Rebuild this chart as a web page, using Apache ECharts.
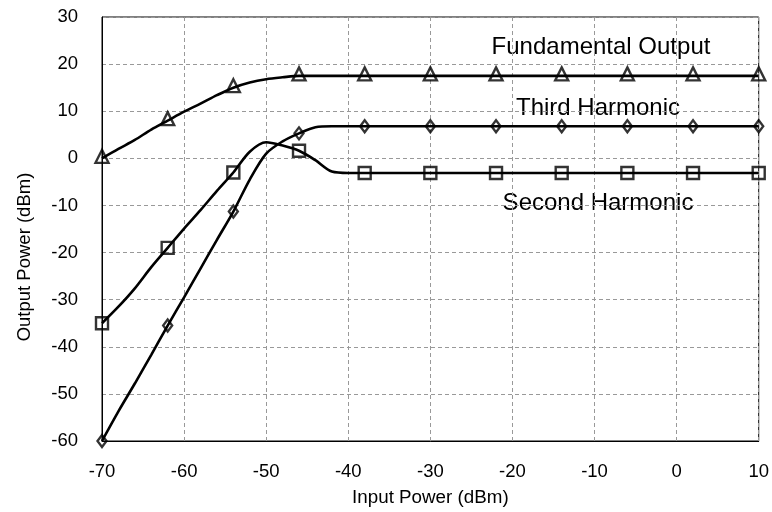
<!DOCTYPE html>
<html>
<head>
<meta charset="utf-8">
<script src="https://cdn.jsdelivr.net/npm/echarts@6/dist/echarts.min.js"></script>
<style>
  html, body { margin: 0; padding: 0; background: #fff; }
  #chart { width: 772px; height: 512px; }
</style>
</head>
<body>
<div id="chart"></div>
<script>
// Input power (dBm) sample points
const inputPower = [-70, -68, -66, -64, -62, -60, -58, -56, -54, -52, -50, -48, -46, -44, -42, -40, -38, -30, -22, -14, -6, 2, 10];
// Output power (dBm)
const fundamental = [0, 2, 3.9, 6.1, 8, 9.9, 11.6, 13.4, 15, 16.1, 16.8, 17.2, 17.5, 17.5, 17.5, 17.5, 17.5, 17.5, 17.5, 17.5, 17.5, 17.5, 17.5];
const secondHarmonic = [-35, -31.5, -27.6, -23.1, -19, -14.9, -11, -6.9, -3, 1.4, 3.4, 2.7, 1.6, -0.4, -2.8, -3.1, -3.1, -3.1, -3.1, -3.1, -3.1, -3.1, -3.1];
const thirdHarmonic = [-60, -53.7, -47.8, -41.7, -35.5, -29.5, -23.4, -17.3, -11.3, -4.5, 1.0, 3.6, 5.3, 6.6, 6.8, 6.8, 6.8, 6.8, 6.8, 6.8, 6.8, 6.8, 6.8];
// Marker input powers (every 8 dB)
const markerInputs = [-70, -62, -54, -46, -38, -30, -22, -14, -6, 2, 10];
// Axis settings
const xTicks = { min: -70, max: 10, interval: 10 };
const yTicks = { min: -60, max: 30, interval: 10 };
const seriesNames = ['Fundamental Output', 'Third Harmonic', 'Second Harmonic'];

const FONT = '"Liberation Sans", Arial, sans-serif';

function pairs(vals) { return inputPower.map((x, i) => [x, vals[i]]); }
function markers(vals) {
  return inputPower.map((x, i) => [x, vals[i]]).filter(p => markerInputs.indexOf(p[0]) >= 0);
}

function lineSeries(name, vals) {
  return {
    name: name, type: 'line', data: pairs(vals), smooth: 0.3,
    showSymbol: false, symbol: 'none',
    lineStyle: { color: '#000', width: 2.6 }, z: 2, silent: true
  };
}
function markerSeries(name, vals, symbol, size, offset) {
  return {
    name: name + ' markers', type: 'scatter', data: markers(vals),
    symbol: symbol, symbolSize: size, symbolOffset: offset || [0, 0],
    itemStyle: { color: 'rgba(0,0,0,0)', borderColor: '#000', borderWidth: 2.4 },
    z: 3, silent: true, clip: true
  };
}

const chart = echarts.init(document.getElementById('chart'), null, { renderer: 'canvas' });
chart.setOption({
  animation: false,
  backgroundColor: '#fff',
  grid: { left: 102, right: 13, top: 17, bottom: 69, show: true, borderColor: '#000', borderWidth: 1 },
  xAxis: {
    type: 'value', min: xTicks.min, max: xTicks.max, interval: xTicks.interval,
    name: 'Input Power (dBm)', nameLocation: 'middle', nameGap: 47,
    nameTextStyle: { fontFamily: FONT, fontSize: 18.8, color: '#000' },
    axisLine: { show: true, onZero: false, lineStyle: { color: '#000', width: 1 } },
    axisTick: { show: false },
    axisLabel: { fontFamily: FONT, fontSize: 18.5, color: '#000', margin: 21 },
    splitLine: { show: true, lineStyle: { color: '#999', width: 1, type: [4, 3] } }
  },
  yAxis: {
    type: 'value', min: yTicks.min, max: yTicks.max, interval: yTicks.interval,
    axisLine: { show: true, onZero: false, lineStyle: { color: '#000', width: 1 } },
    axisTick: { show: false },
    axisLabel: { fontFamily: FONT, fontSize: 18.5, color: '#000', margin: 24 },
    splitLine: { show: true, lineStyle: { color: '#999', width: 1, type: [4, 3] } }
  },
  graphic: [
    { type: 'text', x: 25, y: 257, rotation: Math.PI / 2,
      style: { text: 'Output Power (dBm)', font: '18.5px ' + FONT, fill: '#000', textAlign: 'center', textVerticalAlign: 'middle' } },
    { type: 'text', x: 601, y: 47,
      style: { text: seriesNames[0], font: '24px ' + FONT, fill: '#000', textAlign: 'center', textVerticalAlign: 'middle' } },
    { type: 'text', x: 598, y: 108,
      style: { text: seriesNames[1], font: '24px ' + FONT, fill: '#000', textAlign: 'center', textVerticalAlign: 'middle' } },
    { type: 'text', x: 598, y: 203,
      style: { text: seriesNames[2], font: '24px ' + FONT, fill: '#000', textAlign: 'center', textVerticalAlign: 'middle' } }
  ],
  series: [
    lineSeries(seriesNames[0], fundamental),
    lineSeries(seriesNames[1], thirdHarmonic),
    lineSeries(seriesNames[2], secondHarmonic),
    markerSeries(seriesNames[0], fundamental, 'triangle', 13, [0, -2]),
    markerSeries(seriesNames[1], thirdHarmonic, 'diamond', [9, 12]),
    markerSeries(seriesNames[2], secondHarmonic, 'rect', 12)
  ]
});
</script>
</body>
</html>
